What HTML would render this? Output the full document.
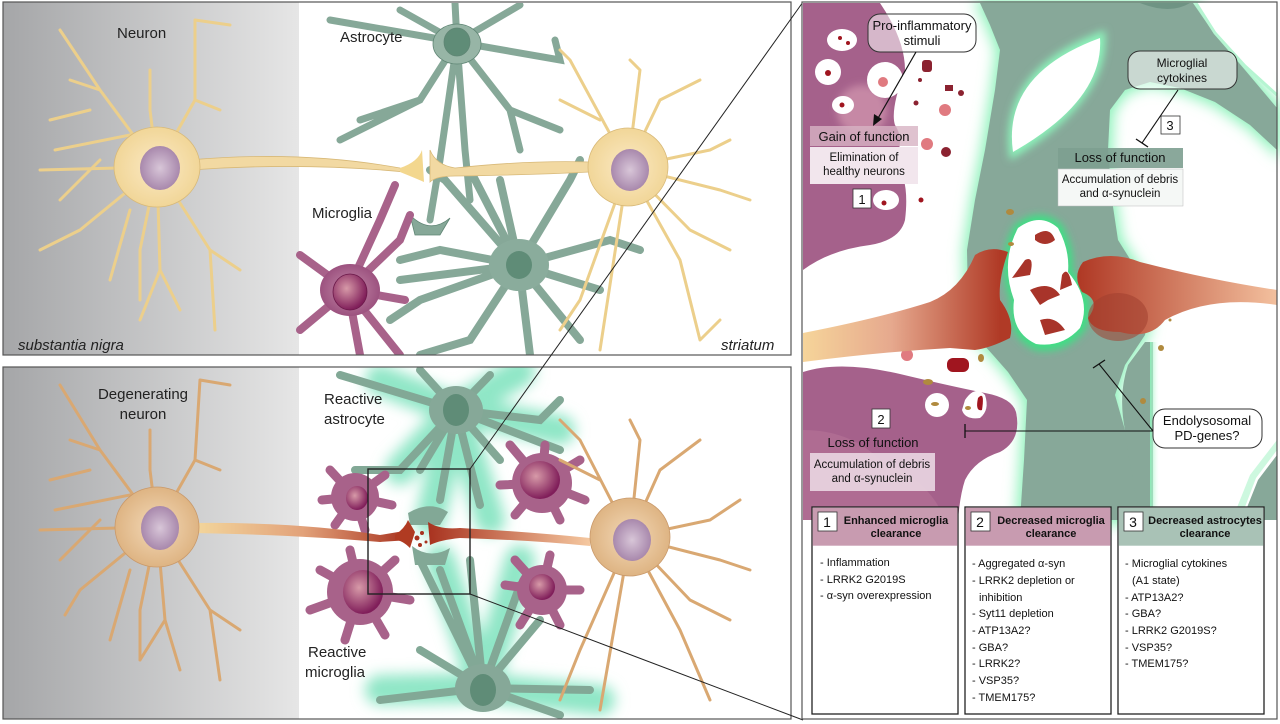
<!DOCTYPE html>
<html><head><meta charset="utf-8"><style>
html,body{margin:0;padding:0;background:#fff;}
svg{display:block;font-family:"Liberation Sans",sans-serif;}
</style></head><body>
<svg width="1280" height="724" viewBox="0 0 1280 724" xmlns="http://www.w3.org/2000/svg">
<defs>
<linearGradient id="gbg" x1="0" x2="1" y1="0" y2="0">
<stop offset="0" stop-color="#a5a6a8"/><stop offset="1" stop-color="#e6e6e6"/></linearGradient>
<radialGradient id="soma" cx="0.5" cy="0.5" r="0.5"><stop offset="0" stop-color="#fbe9c4"/><stop offset="1" stop-color="#f1d698"/></radialGradient>
<radialGradient id="soma2" cx="0.5" cy="0.5" r="0.5"><stop offset="0" stop-color="#f3d9b8"/><stop offset="1" stop-color="#deb483"/></radialGradient>
<radialGradient id="nuc" cx="0.5" cy="0.5" r="0.5"><stop offset="0" stop-color="#d8c6d8"/><stop offset="1" stop-color="#a888ac"/></radialGradient>
<radialGradient id="mg" cx="0.5" cy="0.5" r="0.5"><stop offset="0" stop-color="#c58aaa"/><stop offset="1" stop-color="#9c527f"/></radialGradient>
<radialGradient id="mgn" cx="0.4" cy="0.4" r="0.6"><stop offset="0" stop-color="#d79aa8"/><stop offset="1" stop-color="#801e5a"/></radialGradient>
<linearGradient id="ax" x1="0" x2="1"><stop offset="0" stop-color="#f3d69c"/><stop offset="0.5" stop-color="#e2a27a"/><stop offset="1" stop-color="#a8321f"/></linearGradient>
<linearGradient id="ax2" x1="1" x2="0"><stop offset="0" stop-color="#f5c8a0"/><stop offset="1" stop-color="#a8321f"/></linearGradient>
<linearGradient id="axR" x1="802" x2="1000" y1="0" y2="0" gradientUnits="userSpaceOnUse"><stop offset="0" stop-color="#f6d59a"/><stop offset="0.45" stop-color="#e6a98e"/><stop offset="1" stop-color="#b03a26"/></linearGradient>
<linearGradient id="axR2" x1="1277" x2="1080" y1="0" y2="0" gradientUnits="userSpaceOnUse"><stop offset="0" stop-color="#f3c09e"/><stop offset="1" stop-color="#b03a26"/></linearGradient>
<linearGradient id="gl" x1="0" x2="1"><stop offset="0" stop-color="#8cf2ba" stop-opacity="0.9"/><stop offset="1" stop-color="#ffffff" stop-opacity="0"/></linearGradient>
<filter id="glow" x="-20%" y="-20%" width="140%" height="140%"><feGaussianBlur stdDeviation="7"/></filter>
<filter id="glow2" x="-20%" y="-20%" width="140%" height="140%"><feGaussianBlur stdDeviation="4"/></filter>
<clipPath id="cT"><rect x="3" y="3" width="788" height="352"/></clipPath>
<clipPath id="cB"><rect x="3" y="367" width="788" height="352"/></clipPath>
</defs>

<!-- ========== TOP LEFT PANEL ========== -->
<rect x="3" y="2" width="788" height="353" fill="#fff"/>
<rect x="3" y="2" width="296" height="353" fill="url(#gbg)"/>
<g clip-path="url(#cT)">
<g fill="#86a898" stroke="#5f8574" stroke-width="0.8" stroke-linecap="round">
<g stroke="#86a898" stroke-width="7" fill="none">
<path fill="none" d="M457 42 L330 20 M457 42 L400 10 M457 42 L455 3 M457 42 L520 5 M457 42 L560 60 L555 40 M457 42 L420 100 L360 120 M420 100 L340 140 M457 42 L440 160 L430 220 M457 42 L465 150 L470 200 M457 42 L510 110 L560 130 M510 110 L520 150"/>
</g>
<ellipse cx="457" cy="44" rx="24" ry="20" fill="#97b5a6"/>
<ellipse cx="457" cy="42" rx="13" ry="14" fill="#5f8c77"/>
<path d="M410 215 Q430 235 450 218 L440 235 L415 235 Z"/>
</g>
<g fill="none" stroke="#86a898" stroke-width="8" stroke-linecap="round">
<path fill="none" d="M519 265 L440 250 L400 260 M519 265 L445 180 L430 170 M519 265 L470 170 M519 265 L500 180 M519 265 L570 180 L580 160 M519 265 L610 240 L640 250 M519 265 L600 290 M519 265 L580 340 M519 265 L530 355 M519 265 L470 340 L420 355 M519 265 L420 300 L390 320 M519 265 L400 280"/>
</g>
<ellipse cx="519" cy="265" rx="30" ry="26" fill="#8aac9c"/>
<ellipse cx="519" cy="265" rx="13" ry="14" fill="#5f8c77"/>
<g fill="none" stroke="#a8628a" stroke-width="8" stroke-linecap="round">
<path fill="none" d="M348 290 L380 220 L395 185 M348 290 L400 240 L410 215 M348 290 L300 255 M348 290 L300 330 M348 290 L360 355 M348 290 L400 355 M348 290 L405 300"/>
</g>
<ellipse cx="350" cy="290" rx="30" ry="26" fill="url(#mg)"/>
<ellipse cx="350" cy="292" rx="17" ry="18" fill="url(#mgn)" stroke="#6a1848" stroke-width="0.8"/>
<g fill="none" stroke="#eccf8b" stroke-width="3" stroke-linecap="round" stroke-linejoin="round">
<path fill="none" d="M157 167 L100 90 L60 30 M100 90 L70 80 M90 110 L50 120 M130 135 L55 150 M157 167 L40 170 M100 160 L60 200 M157 167 L80 230 L40 250 M130 210 L110 280 M157 167 L140 250 L140 300 M157 167 L160 270 L140 320 M160 270 L180 310 M157 167 L210 250 L215 330 M210 250 L240 270 M157 167 L150 110 L150 70 M157 167 L195 100 L195 20 L230 25 M195 100 L220 110"/>
<path fill="none" d="M628 167 L570 60 L560 50 M628 167 L640 70 L630 60 M628 167 L660 100 L700 80 M628 167 L710 150 L730 140 M628 167 L720 190 L750 200 M628 167 L690 230 L730 250 M628 167 L680 260 L700 340 L720 320 M628 167 L600 350 M628 167 L580 300 L560 330 M600 120 L560 100"/>
</g>
<path d="M190 160 Q300 150 400 168 L405 172 Q300 162 190 170 Z" fill="#f2d9a2" stroke="#d8b978" stroke-width="0.8"/>
<path d="M400 168 Q418 162 422 150 L424 182 Q415 178 400 172 Z" fill="#f3d78e"/>
<path d="M430 150 Q436 165 455 168 Q530 160 590 162 L590 172 Q530 175 455 176 Q436 176 430 182 Z" fill="#f2d9a2" stroke="#d8b978" stroke-width="0.8"/>
<ellipse cx="157" cy="167" rx="43" ry="40" fill="url(#soma)" stroke="#d8b978" stroke-width="0.8"/>
<ellipse cx="160" cy="168" rx="20" ry="22" fill="url(#nuc)"/>
<ellipse cx="628" cy="167" rx="40" ry="39" fill="url(#soma)" stroke="#d8b978" stroke-width="0.8"/>
<ellipse cx="630" cy="170" rx="19" ry="21" fill="url(#nuc)"/>
</g>
<rect x="3" y="2" width="788" height="353" fill="none" stroke="#555" stroke-width="1.2"/>
<text x="117" y="38" font-size="15" fill="#222">Neuron</text>
<text x="340" y="42" font-size="15" fill="#222">Astrocyte</text>
<text x="312" y="218" font-size="15" fill="#222">Microglia</text>
<text x="18" y="350" font-size="15" font-style="italic" fill="#222">substantia nigra</text>
<text x="721" y="350" font-size="15" font-style="italic" fill="#222">striatum</text>

<!-- ========== BOTTOM LEFT PANEL ========== -->
<rect x="3" y="367" width="788" height="352" fill="#fff"/>
<rect x="3" y="367" width="296" height="352" fill="url(#gbg)"/>
<g clip-path="url(#cB)">
<g filter="url(#glow)" fill="none" stroke="#8fe6c6" stroke-width="30" stroke-linecap="round">
<path fill="none" d="M456 410 L380 380 M456 410 L560 430 M456 410 L430 520 M456 410 L490 520 M456 410 L520 372 M483 688 L440 560 M483 688 L520 560 M483 688 L380 690 M483 688 L600 700 M456 410 L400 470"/>
</g>
<g fill="none" stroke="#82a896" stroke-width="8" stroke-linecap="round">
<path fill="none" d="M456 410 L340 375 M456 410 L420 370 M456 410 L490 375 M456 410 L540 420 L560 400 M456 410 L560 450 M456 410 L400 470 L355 470 M456 410 L420 470 M456 410 L440 500 M456 410 L480 505 M456 410 L500 460"/>
<path fill="none" d="M483 688 L420 560 M483 688 L440 570 M483 688 L470 560 M483 688 L520 585 M483 688 L540 620 M483 688 L380 700 M483 688 L590 690 M483 688 L420 650 M483 688 L560 715"/>
</g>
<ellipse cx="456" cy="410" rx="27" ry="24" fill="#86a898"/>
<ellipse cx="456" cy="410" rx="13" ry="16" fill="#5f8c77"/>
<ellipse cx="483" cy="688" rx="28" ry="24" fill="#86a898"/>
<ellipse cx="483" cy="690" rx="13" ry="16" fill="#5f8c77"/>
<path d="M408 513 Q430 500 448 512 L440 525 L410 525 Z" fill="#82a896"/>
<path d="M412 546 Q430 560 450 548 L445 565 L415 565 Z" fill="#82a896"/>
<g fill="#a8628a">
<g stroke="#a8628a" stroke-width="9" stroke-linecap="round" fill="none">
<path fill="none" d="M355 497 L330 470 M355 497 L385 475 M355 497 L322 500 M355 497 L335 525 M355 497 L365 530 M355 497 L392 505"/>
<path fill="none" d="M542 483 L510 445 M542 483 L545 445 M542 483 L580 460 M542 483 L585 500 M542 483 L560 520 M542 483 L515 515 M542 483 L500 485"/>
<path fill="none" d="M360 592 L320 570 M360 592 L350 550 M360 592 L395 560 M360 592 L410 600 M360 592 L385 635 M360 592 L345 640 M360 592 L310 610"/>
<path fill="none" d="M542 590 L515 560 M542 590 L550 555 M542 590 L580 590 M542 590 L560 625 M542 590 L520 625 M542 590 L505 585"/>
</g>
<circle cx="355" cy="497" r="24"/><circle cx="542" cy="483" r="30"/><circle cx="360" cy="592" r="33"/><circle cx="542" cy="590" r="25"/>
</g>
<ellipse cx="357" cy="498" rx="11" ry="12" fill="url(#mgn)"/>
<ellipse cx="540" cy="480" rx="20" ry="19" fill="url(#mgn)"/>
<ellipse cx="363" cy="592" rx="20" ry="22" fill="url(#mgn)"/>
<ellipse cx="542" cy="587" rx="13" ry="13" fill="url(#mgn)"/>
<g fill="none" stroke="#d9a872" stroke-width="3" stroke-linecap="round" stroke-linejoin="round">
<path fill="none" d="M157 527 L100 450 L60 385 M100 450 L70 440 M90 470 L50 480 M130 495 L55 510 M157 527 L40 530 M100 520 L60 560 M157 527 L80 590 L65 615 M130 570 L110 640 M157 527 L140 610 L140 660 M157 527 L165 620 L140 660 M165 620 L180 670 M157 527 L210 610 L220 680 M210 610 L240 630 M157 527 L150 470 L150 430 M157 527 L195 460 L200 380 L230 385 M195 460 L220 470"/>
<path fill="none" d="M630 537 L580 440 L560 420 M630 537 L640 440 L630 420 M630 537 L660 470 L700 440 M630 537 L710 520 L740 500 M630 537 L720 560 L750 570 M630 537 L690 600 L730 620 M630 537 L680 630 L710 700 M630 537 L600 710 M630 537 L580 650 L560 700 M600 480 L560 460"/>
</g>
<path d="M195 523 Q300 522 380 535 L410 530 L410 540 L380 542 Q300 535 195 533 Z" fill="url(#ax)"/>
<path d="M395 535 Q405 528 408 520 L415 532 L410 548 Q402 540 395 540 Z" fill="#b03b22"/>
<path d="M428 522 Q440 530 460 528 Q530 532 590 538 L590 546 Q530 540 460 538 Q440 540 430 545 Z" fill="url(#ax2)"/>
<g fill="#a8321f"><circle cx="417" cy="538" r="2.5"/><circle cx="422" cy="533" r="2"/><circle cx="420" cy="545" r="2"/><circle cx="426" cy="542" r="1.5"/></g>
<ellipse cx="157" cy="527" rx="42" ry="40" fill="url(#soma2)" stroke="#c9996a" stroke-width="0.8"/>
<ellipse cx="160" cy="528" rx="19" ry="22" fill="url(#nuc)"/>
<ellipse cx="630" cy="537" rx="40" ry="39" fill="url(#soma2)" stroke="#c9996a" stroke-width="0.8"/>
<ellipse cx="632" cy="540" rx="19" ry="21" fill="url(#nuc)"/>
</g>
<rect x="3" y="367" width="788" height="352" fill="none" stroke="#555" stroke-width="1.2"/>
<text x="143" y="399" font-size="15" fill="#222" text-anchor="middle">Degenerating</text>
<text x="143" y="419" font-size="15" fill="#222" text-anchor="middle">neuron</text>
<text x="324" y="404" font-size="15" fill="#222">Reactive</text>
<text x="324" y="424" font-size="15" fill="#222">astrocyte</text>
<text x="308" y="657" font-size="15" fill="#222">Reactive</text>
<text x="305" y="677" font-size="15" fill="#222">microglia</text>
<rect x="368" y="469" width="102" height="125" fill="none" stroke="#222" stroke-width="1.4"/>
<line x1="470" y1="469" x2="803" y2="2" stroke="#222" stroke-width="1"/>
<line x1="470" y1="594" x2="803" y2="720" stroke="#222" stroke-width="1"/>

<!-- ========== RIGHT PANEL ========== -->
<rect x="802" y="2" width="475" height="717" fill="#fff"/>
<g filter="url(#glow)">
<polygon points="980,3 1193,3 1215,35 1245,70 1277,108 1277,150 1250,125 1215,102 1180,88 1150,82 1125,90 1110,110 1108,150 1112,200 1118,240 1140,275 1150,305 1145,335 1125,365 1115,395 1125,430 1140,470 1150,520 1020,520 1024,460 1027,400 1008,372 993,355 975,335 968,300 967,250 975,200 985,150 995,90 1000,50 990,25" fill="#8cf2ba" stroke="#8cf2ba" stroke-width="8"/>
</g>
<polygon points="980,3 1193,3 1215,35 1245,70 1277,108 1277,150 1250,125 1215,102 1180,88 1150,82 1125,90 1110,110 1108,150 1112,200 1118,240 1140,275 1150,305 1145,335 1125,365 1115,395 1125,430 1140,470 1150,520 1020,520 1024,460 1027,400 1008,372 993,355 975,335 968,300 967,250 975,200 985,150 995,90 1000,50 990,25" fill="#87a899"/>
<!-- explicit white top-right lens -->
<polygon points="1196,3 1258,3 1266,20 1270,60 1277,95 1245,66 1215,33" fill="#fff"/>
<polyline points="1196,3 1215,33 1245,66 1277,95" fill="none" stroke="#b6f5d2" stroke-width="3"/>
<g filter="url(#glow2)"><path d="M1010 160 Q995 70 1105 30 Q1112 100 1010 160 Z" fill="#8cf2ba"/></g>
<path d="M1013 152 Q1002 74 1100 38 Q1104 100 1013 152 Z" fill="#fff"/>
<path d="M1140 3 Q1170 15 1190 3 Z" fill="#6f9484"/>
<g filter="url(#glow2)"><path d="M1015 225 Q1040 205 1062 225 Q1075 250 1072 270 Q1100 300 1085 330 Q1065 355 1035 350 Q1005 335 1010 300 Q995 260 1015 225 Z" fill="#3ee084"/></g>
<path d="M1018 228 Q1040 212 1058 228 Q1070 250 1068 272 Q1092 300 1080 328 Q1062 348 1036 344 Q1010 332 1014 300 Q1000 262 1018 228 Z" fill="#fff"/>
<!-- microglia purple top left -->
<path d="M803 3 L880 3 Q905 40 905 70 Q890 110 895 125 Q905 140 895 160 Q910 180 905 220 Q900 240 870 245 Q830 250 803 270 Z" fill="#a5618b"/>
<g filter="url(#glow2)"><ellipse cx="862" cy="110" rx="25" ry="25" fill="#e8b0c0" opacity="0.5"/></g>
<g fill="#fff"><ellipse cx="842" cy="40" rx="15" ry="11"/><ellipse cx="828" cy="72" rx="13" ry="13"/><ellipse cx="885" cy="80" rx="18" ry="18"/><ellipse cx="843" cy="105" rx="11" ry="9"/><ellipse cx="886" cy="200" rx="13" ry="10"/></g>
<g fill="#a0151f"><circle cx="840" cy="38" r="2"/><circle cx="848" cy="43" r="2"/><circle cx="828" cy="73" r="3"/><circle cx="842" cy="105" r="2.5"/><circle cx="884" cy="203" r="2.5"/><circle cx="921" cy="200" r="2.5"/></g>
<g fill="#e07a80"><circle cx="883" cy="82" r="5"/><circle cx="945" cy="110" r="6"/><circle cx="927" cy="144" r="6"/></g>
<g fill="#8b2230"><rect x="922" y="60" width="10" height="12" rx="3"/><rect x="945" y="85" width="8" height="6"/><circle cx="961" cy="93" r="3"/><circle cx="916" cy="103" r="2.5"/><circle cx="946" cy="152" r="5"/><circle cx="920" cy="80" r="2"/></g>
<!-- microglia purple bottom left -->
<path d="M803 372 Q840 360 900 374 Q950 386 985 393 Q1012 398 1016 412 Q1022 440 1000 452 Q975 460 965 480 Q960 495 958 520 L803 520 Z" fill="#a5618b"/>
<path d="M803 430 Q850 430 880 460 Q930 480 945 520 L803 520 Z" fill="#b57397" opacity="0.6"/>
<g fill="#fff"><circle cx="937" cy="405" r="12"/><path d="M965 400 Q975 385 985 395 Q990 410 980 418 Q965 420 962 410 Z"/></g>
<g fill="#b08a3e"><ellipse cx="935" cy="404" rx="4" ry="2"/><ellipse cx="968" cy="408" rx="3" ry="2"/><ellipse cx="928" cy="382" rx="5" ry="3"/><ellipse cx="981" cy="358" rx="3" ry="4"/><ellipse cx="1011" cy="244" rx="3" ry="2"/><ellipse cx="1010" cy="212" rx="4" ry="3"/></g>
<g fill="#a0151f"><path d="M978 398 Q985 390 982 410 Q975 412 978 398 Z"/><rect x="947" y="358" width="22" height="14" rx="6"/></g>
<g fill="#e07a80"><circle cx="907" cy="355" r="6"/></g>
<!-- neurons terminals -->
<path d="M803 333 Q880 318 930 302 Q960 290 975 255 Q990 245 1008 252 Q998 280 1000 300 Q1015 320 1010 338 Q990 348 975 350 L950 348 Q880 352 803 362 Z" fill="url(#axR)"/>
<path d="M1083 262 Q1110 250 1140 262 Q1210 280 1277 290 L1277 305 Q1210 295 1165 320 Q1150 340 1120 332 Q1092 332 1088 318 Q1102 300 1082 292 Q1072 276 1083 262 Z" fill="url(#axR2)"/>
<ellipse cx="1118" cy="317" rx="30" ry="24" fill="#a04030" opacity="0.55"/>
<g fill="#a8342a"><path d="M1035 235 Q1050 225 1055 240 Q1045 248 1035 240 Z"/><path d="M1025 260 Q1035 255 1030 275 L1012 278 Z"/><path d="M1030 290 Q1050 280 1060 295 L1048 300 L1040 305 Z"/><path d="M1040 320 Q1055 315 1065 330 L1045 335 Z"/><path d="M1062 275 Q1068 265 1072 285 L1060 290 Z"/></g>
<!-- explicit white area lower right (outside astrocyte) -->
<rect x="1153" y="342" width="124" height="178" fill="#fff"/>
<path d="M1153 342 L1153 520 L1141 520 Q1130 470 1125 430 Q1118 395 1128 365 L1145 342 Z" fill="#87a899"/>
<rect x="1150" y="342" width="10" height="178" fill="url(#gl)"/>
<polygon points="1277,455 1277,520 1242,520 1258,480" fill="#87a899"/>
<polygon points="1240,520 1256,478 1277,450 1277,440 1250,475 1232,520" fill="#b8f5d2" opacity="0.7"/>
<g fill="#b08a3e"><ellipse cx="1143" cy="401" rx="3" ry="3"/><ellipse cx="1161" cy="348" rx="3" ry="3"/><ellipse cx="1170" cy="320" rx="1.5" ry="1.5"/></g>
<rect x="802" y="2" width="475" height="717" fill="none" stroke="#555" stroke-width="1.2"/>

<!-- right panel labels -->
<g font-size="13" fill="#111" text-anchor="middle">
<rect x="868" y="14" width="108" height="38" rx="12" fill="#fff" fill-opacity="0.55" stroke="#333"/>
<text x="922" y="30">Pro-inflammatory</text><text x="922" y="45">stimuli</text>
<line x1="916" y1="52" x2="877" y2="120" stroke="#111" stroke-width="1.2"/>
<path d="M873 126 L874 114 L882 119 Z" fill="#111"/>
<rect x="810" y="126" width="108" height="20" fill="#d7b3c3" fill-opacity="0.8"/>
<text x="864" y="141">Gain of function</text>
<rect x="810" y="147" width="108" height="37" fill="#f2e6ed"/>
<text x="864" y="161" font-size="11.5">Elimination of</text><text x="864" y="175" font-size="11.5">healthy neurons</text>
<rect x="853" y="189" width="18" height="19" fill="#fff" stroke="#333" stroke-width="0.8"/><text x="862" y="204">1</text>

<rect x="1128" y="51" width="109" height="38" rx="12" fill="#fff" fill-opacity="0.55" stroke="#333"/>
<text x="1182" y="67" font-size="12">Microglial</text><text x="1182" y="82" font-size="12">cytokines</text>
<line x1="1178" y1="90" x2="1142" y2="143" stroke="#111" stroke-width="1.1"/>
<line x1="1136" y1="139" x2="1148" y2="147" stroke="#111" stroke-width="1.3"/>
<rect x="1161" y="116" width="19" height="18" fill="#fff" stroke="#333" stroke-width="0.8"/><text x="1170" y="130">3</text>
<rect x="1058" y="148" width="125" height="20" fill="#7d9e90" fill-opacity="0.9"/>
<text x="1120" y="162">Loss of function</text>
<rect x="1058" y="169" width="125" height="37" fill="#f5f8f6" stroke="#bbb" stroke-width="0.5"/>
<text x="1120" y="183" font-size="11.5">Accumulation of debris</text><text x="1120" y="197" font-size="11.5">and α-synuclein</text>

<rect x="1153" y="409" width="109" height="39" rx="12" fill="#fff" stroke="#333"/>
<text x="1207" y="425">Endolysosomal</text><text x="1207" y="440">PD-genes?</text>
<line x1="1153" y1="431" x2="965" y2="431" stroke="#111" stroke-width="1.1"/>
<line x1="965" y1="424" x2="965" y2="438" stroke="#111" stroke-width="1.3"/>
<line x1="1153" y1="431" x2="1099" y2="364" stroke="#111" stroke-width="1.1"/>
<line x1="1093" y1="368" x2="1105" y2="360" stroke="#111" stroke-width="1.3"/>
<rect x="872" y="409" width="18" height="19" fill="#fff" stroke="#333" stroke-width="0.8"/><text x="881" y="424">2</text>
<text x="873" y="447">Loss of function</text>
<rect x="810" y="453" width="125" height="38" fill="#ead7e2" fill-opacity="0.9"/>
<text x="872" y="468" font-size="11.5">Accumulation of debris</text><text x="872" y="482" font-size="11.5">and α-synuclein</text>
</g>

<!-- tables -->
<g font-size="11" fill="#111">
<rect x="812" y="507" width="146" height="207" fill="#fff" stroke="#222" stroke-width="1.3"/>
<rect x="812.7" y="507.7" width="144.6" height="38" fill="#c89bb0"/>
<rect x="818" y="512" width="19" height="19" fill="#fff" stroke="#333" stroke-width="0.8"/>
<text x="827" y="527" font-size="14" text-anchor="middle">1</text>
<text x="896" y="524" font-weight="bold" text-anchor="middle">Enhanced microglia</text>
<text x="896" y="537" font-weight="bold" text-anchor="middle">clearance</text>
<text x="820" y="566">- Inflammation</text><text x="820" y="583">- LRRK2 G2019S</text><text x="820" y="599">- α-syn overexpression</text>

<rect x="965" y="507" width="146" height="207" fill="#fff" stroke="#222" stroke-width="1.3"/>
<rect x="965.7" y="507.7" width="144.6" height="38" fill="#c89bb0"/>
<rect x="971" y="512" width="19" height="19" fill="#fff" stroke="#333" stroke-width="0.8"/>
<text x="980" y="527" font-size="14" text-anchor="middle">2</text>
<text x="1051" y="524" font-weight="bold" text-anchor="middle">Decreased microglia</text>
<text x="1051" y="537" font-weight="bold" text-anchor="middle">clearance</text>
<text x="972" y="567">- Aggregated α-syn</text><text x="972" y="584">- LRRK2 depletion or</text><text x="979" y="601">inhibition</text><text x="972" y="617">- Syt11 depletion</text><text x="972" y="634">- ATP13A2?</text><text x="972" y="651">- GBA?</text><text x="972" y="667">- LRRK2?</text><text x="972" y="684">- VSP35?</text><text x="972" y="701">- TMEM175?</text>

<rect x="1118" y="507" width="146" height="207" fill="#fff" stroke="#222" stroke-width="1.3"/>
<rect x="1118.7" y="507.7" width="144.6" height="38" fill="#a9c2b6"/>
<rect x="1124" y="512" width="19" height="19" fill="#fff" stroke="#333" stroke-width="0.8"/>
<text x="1133" y="527" font-size="14" text-anchor="middle">3</text>
<text x="1205" y="524" font-weight="bold" text-anchor="middle">Decreased astrocytes</text>
<text x="1205" y="537" font-weight="bold" text-anchor="middle">clearance</text>
<text x="1125" y="567">- Microglial cytokines</text><text x="1132" y="584">(A1 state)</text><text x="1125" y="601">- ATP13A2?</text><text x="1125" y="617">- GBA?</text><text x="1125" y="634">- LRRK2 G2019S?</text><text x="1125" y="651">- VSP35?</text><text x="1125" y="667">- TMEM175?</text>
</g>
</svg>
</body></html>
